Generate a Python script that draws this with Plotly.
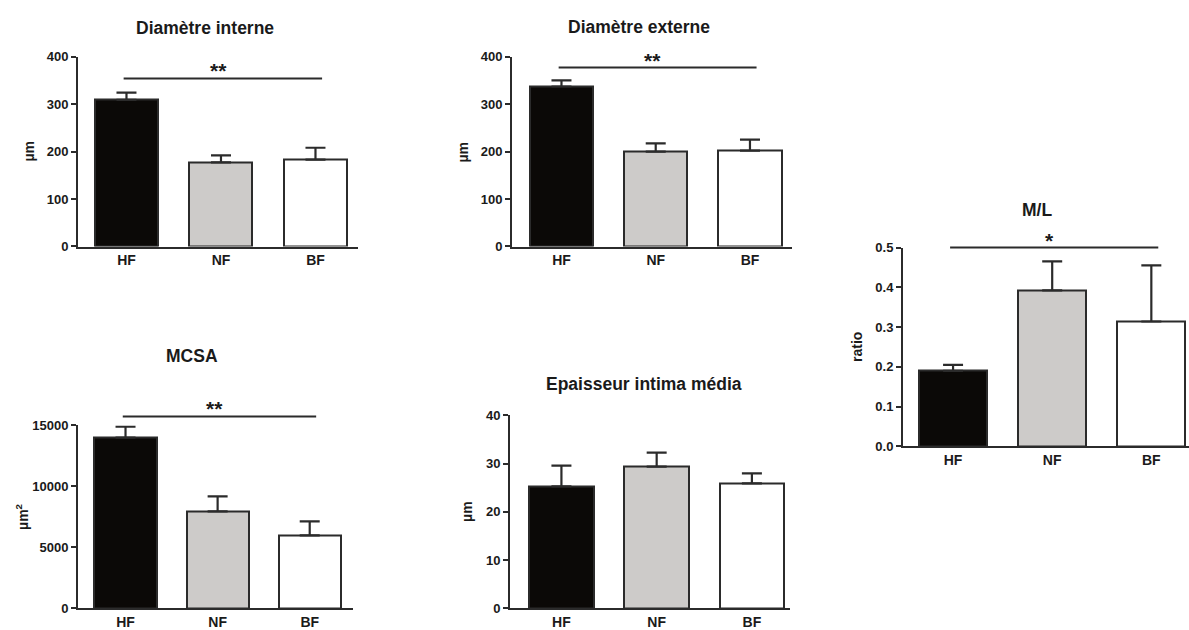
import plotly.graph_objects as go

W, H = 1189, 630

groups = ["HF", "NF", "BF"]
bar_colors = ["#0b0907", "#cdcbc9", "#ffffff"]

diam_int = [309, 177, 183]
diam_int_err = [15, 15, 25]

diam_ext = [337, 200, 202]
diam_ext_err = [13, 17, 23]

ml_ratio = [0.19, 0.392, 0.314]
ml_ratio_err = [0.015, 0.073, 0.141]

mcsa = [14000, 7950, 5980]
mcsa_err = [900, 1230, 1150]

imt = [25.3, 29.4, 25.9]
imt_err = [4.3, 2.9, 2.1]

FONT = "Liberation Sans"
INK = "#2b2b2b"
TXT = "#1a1a1a"

# the capture ends up slightly squeezed vertically; compensate for it
Y_OFF, Y_SCALE = 7.4, 0.975


def px(x):
    return x / W


def py(y):
    return 1 - ((y - Y_OFF) / Y_SCALE) / H


# panel boxes in page pixels: left, right, top, bottom of the plot area
panels = [
    dict(title="Diamètre interne", ytitle="µm", vals=diam_int, err=diam_int_err,
         box=(78, 358, 57, 247), xr=(-0.513, 2.45), ymax=400, dtick=100, fmt="d",
         sig=354, stars="**", bw=0.667, tx=205, ty=28, yt=29),
    dict(title="Diamètre externe", ytitle="µm", vals=diam_ext, err=diam_ext_err,
         box=(512, 792, 57, 247), xr=(-0.525, 2.446), ymax=400, dtick=100, fmt="d",
         sig=377, stars="**", bw=0.67, tx=639, ty=27, yt=463),
    dict(title="M/L", ytitle="ratio", vals=ml_ratio, err=ml_ratio_err,
         box=(903, 1189, 248, 447), xr=(-0.505, 2.38), ymax=0.5, dtick=0.1, fmt=".1f",
         sig=0.5, stars="*", bw=0.685, tx=1037, ty=210, yt=857),
    dict(title="MCSA", ytitle="µm<sup>2</sup>", vals=mcsa, err=mcsa_err,
         box=(78, 353, 426, 609), xr=(-0.516, 2.47), ymax=15000, dtick=5000, fmt="d",
         sig=15737, stars="**", bw=0.674, tx=192, ty=357, yt=22),
    dict(title="Epaisseur intima média", ytitle="µm", vals=imt, err=imt_err,
         box=(510, 790, 416, 609), xr=(-0.54, 2.40), ymax=40, dtick=10, fmt="d",
         sig=None, stars="", bw=0.68, tx=644, ty=385, yt=467),
]

fig = go.Figure()
annotations = []
shapes = []

for i, p in enumerate(panels, start=1):
    sfx = "" if i == 1 else str(i)
    xa, ya = "x" + sfx, "y" + sfx
    x0, x1, top, bot = p["box"]

    fig.add_trace(go.Bar(
        x=[0, 1, 2], y=p["vals"], width=p["bw"],
        marker=dict(color=bar_colors, line=dict(color=INK, width=2)),
        error_y=dict(type="data", array=p["err"], arrayminus=[0, 0, 0], symmetric=False,
                     color=INK, thickness=2.2, width=10),
        xaxis=xa, yaxis=ya, showlegend=False, hoverinfo="skip",
    ))

    ticks = []
    v = 0.0
    while v <= p["ymax"] + 1e-9:
        ticks.append(round(v, 4))
        v += p["dtick"]

    fig.layout["xaxis" + sfx] = dict(
        domain=[px(x0), px(x1)], range=list(p["xr"]), anchor=ya,
        showline=True, linewidth=2, linecolor=INK, ticks="", showgrid=False,
        zeroline=False, tickvals=[0, 1, 2], ticktext=groups,
        tickfont=dict(family=FONT, size=14, color=TXT, weight="bold"),
        ticklabelstandoff=0,
    )
    fig.layout["yaxis" + sfx] = dict(
        domain=[py(bot), py(top)], range=[0, p["ymax"]], anchor=xa,
        showline=True, linewidth=2, linecolor=INK, ticks="outside", ticklen=5,
        tickwidth=2, tickcolor=INK, showgrid=False, zeroline=False,
        tickvals=ticks, tickformat=p["fmt"],
        tickfont=dict(family=FONT, size=13, color=TXT, weight="bold"),
    )

    annotations.append(dict(
        text="<b>" + p["title"] + "</b>", xref="paper", yref="paper",
        x=px(p["tx"]), y=py(p["ty"]), xanchor="center", yanchor="middle",
        showarrow=False, font=dict(family=FONT, size=17.5, color=TXT),
    ))
    annotations.append(dict(
        text="<b>" + p["ytitle"] + "</b>", xref="paper", yref="paper",
        x=px(p["yt"]), y=py((top + bot) / 2), xanchor="center", yanchor="middle",
        showarrow=False, textangle=-90, font=dict(family=FONT, size=14, color=TXT),
    ))

    if p["sig"] is not None:
        yd = p["sig"] / p["ymax"]
        shapes.append(dict(
            type="line", xref=xa, yref=ya + " domain", x0=-0.03, x1=2.07, y0=yd, y1=yd,
            line=dict(color=INK, width=2),
        ))
        annotations.append(dict(
            text="<b>" + p["stars"] + "</b>", xref=xa, yref=ya + " domain",
            x=0.97, y=yd, xanchor="center", yanchor="bottom", showarrow=False, yshift=-6,
            font=dict(family=FONT, size=21, color=TXT),
        ))

fig.update_layout(
    width=W, height=H, margin=dict(l=0, r=0, t=0, b=0),
    paper_bgcolor="white", plot_bgcolor="white",
    annotations=annotations, shapes=shapes, bargap=0,
)

# drop the default page margin so the figure fills the 1189x630 window exactly
fig.write_html(
    "out.html",
    config={"displayModeBar": False},
    post_script="document.body.style.margin='0';document.body.style.overflow='hidden';",
)
